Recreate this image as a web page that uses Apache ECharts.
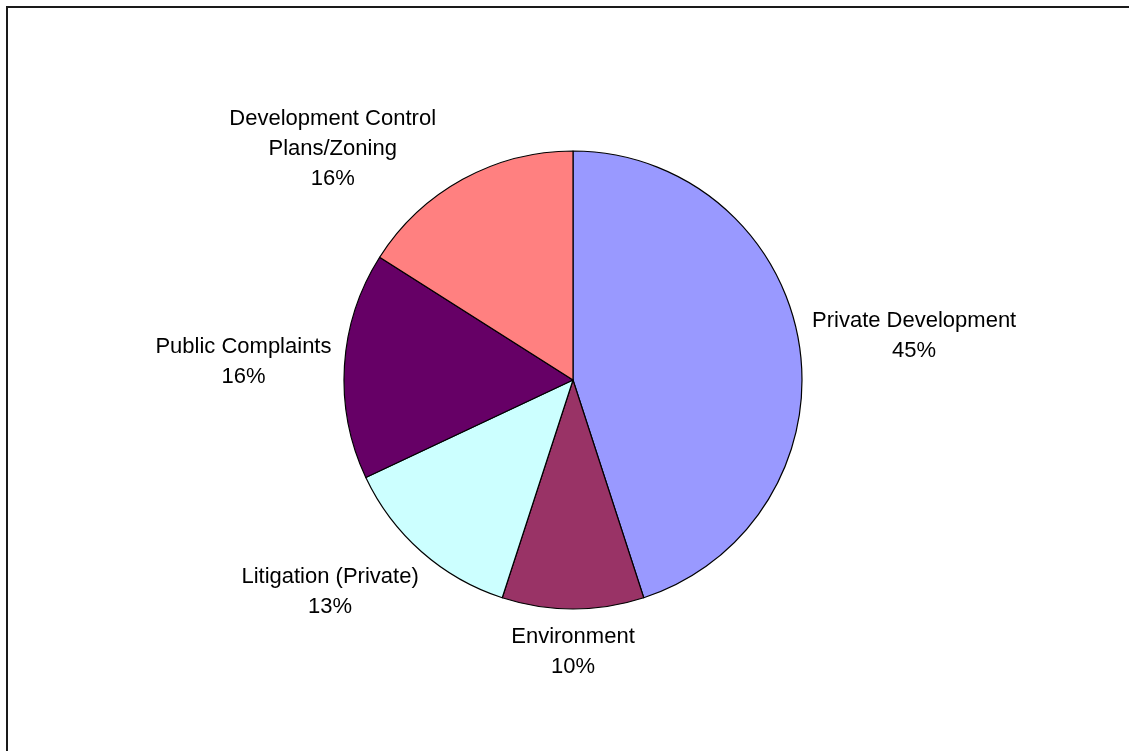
<!DOCTYPE html>
<html>
<head>
<meta charset="utf-8">
<title>Sources of Projects</title>
<script src="https://cdn.jsdelivr.net/npm/echarts@6/dist/echarts.min.js"></script>
<style>
  html, body { margin: 0; padding: 0; background: #fff; }
  #chart { width: 1129px; height: 751px; }
</style>
</head>
<body>
<div id="chart"></div>
<script>
// Slice names, shares (%) and fills, clockwise from 12 o'clock
const categories = [
  'Private Development',
  'Environment',
  'Litigation (Private)',
  'Public Complaints',
  'Development Control\nPlans/Zoning'
];
const shares = [45, 10, 13, 16, 16];
const colors = ['#9999FF', '#993366', '#CCFFFF', '#660066', '#FF8080'];

// Pie geometry and label placement rules
const CX = 573, CY = 380, R = 229;
const GAP = 13;        // distance between the rim and a label
const TOP_LIMIT = 104; // labels may not rise above this line
const CLEAR = 2;       // minimal clearance kept from the rim after clamping

// Mid-angle of each slice (radians, clockwise from the top)
const total = shares.reduce((a, b) => a + b, 0);
const midAngles = [];
let acc = 0;
shares.forEach(v => {
  midAngles.push(((acc + v / 2) / total) * Math.PI * 2);
  acc += v;
});

const chart = echarts.init(document.getElementById('chart'), null, { renderer: 'canvas' });

chart.setOption({
  animation: false,
  backgroundColor: '#ffffff',
  graphic: [{
    type: 'rect',
    shape: { x: 7, y: 7, width: 1300, height: 900 },
    style: { fill: 'none', stroke: '#1a1a1a', lineWidth: 2 },
    silent: true
  }],
  series: [{
    type: 'pie',
    center: [CX, CY],
    radius: R,
    startAngle: 90,
    clockwise: true,
    avoidLabelOverlap: false,
    data: categories.map((name, i) => ({
      name: name,
      value: shares[i],
      itemStyle: { color: colors[i] }
    })),
    itemStyle: { borderColor: '#000', borderWidth: 1.2 },
    label: {
      show: true,
      position: 'outside',
      formatter: p => p.name + '\n' + p.value + '%',
      fontFamily: '"Liberation Sans", Arial, sans-serif',
      fontSize: 22,
      lineHeight: 30,
      color: '#000',
      align: 'center'
    },
    labelLine: { show: false },
    labelLayout: function (params) {
      const a = midAngles[params.dataIndex];
      const sx = Math.sin(a), sy = -Math.cos(a);
      const ax = CX + (R + GAP) * sx;
      const ay = CY + (R + GAP) * sy;
      const clamp = v => Math.max(-1, Math.min(1, v * Math.SQRT2));
      const w = params.labelRect.width, h = params.labelRect.height;
      let x = ax + clamp(sx) * w / 2;
      let y = ay + clamp(sy) * h / 2;
      // Keep labels below the top limit and slide them sideways off the rim
      if (y - h / 2 < TOP_LIMIT) {
        y = TOP_LIMIT + h / 2;
        const cornerX = sx < 0 ? x + w / 2 : x - w / 2;
        const dy = y + h / 2 - CY;
        const need = R + CLEAR;
        if (Math.abs(dy) < need) {
          const dxNeed = Math.sqrt(need * need - dy * dy);
          const targetX = sx < 0 ? CX - dxNeed : CX + dxNeed;
          if ((sx < 0 && cornerX > targetX) || (sx >= 0 && cornerX < targetX)) {
            x += targetX - cornerX;
          }
        }
      }
      return { x: x, y: y, align: 'center', verticalAlign: 'middle' };
    },
    emphasis: { disabled: true }
  }]
});
</script>
</body>
</html>
